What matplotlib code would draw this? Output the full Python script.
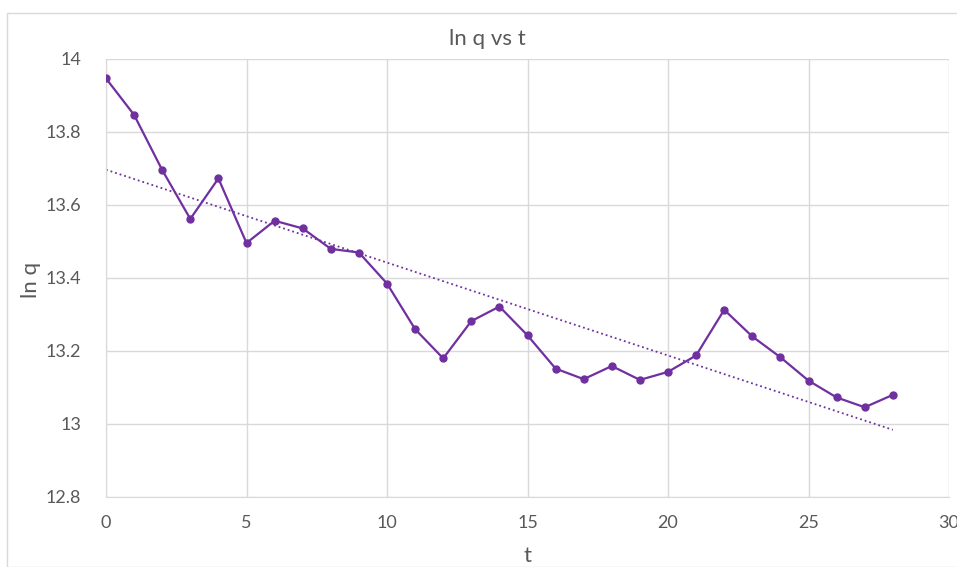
import numpy as np
import matplotlib.pyplot as plt
from matplotlib.patches import Rectangle

plt.rcParams['font.family'] = ['Lato', 'DejaVu Sans']

# Datos
t = np.arange(0, 29)
ln_q = np.array([13.946, 13.846, 13.695, 13.561, 13.672, 13.495, 13.556, 13.535,
                 13.479, 13.469, 13.384, 13.259, 13.179, 13.281, 13.321, 13.242,
                 13.151, 13.122, 13.158, 13.120, 13.142, 13.187, 13.312, 13.239,
                 13.182, 13.118, 13.072, 13.045, 13.079])

# Línea de tendencia lineal
b, a = np.polyfit(t, ln_q, 1)
tendencia = a + b * t

morado = '#7030A0'
gris_txt = '#595959'
gris_rej = '#D9D9D9'

W, H = 957, 567
fig = plt.figure(figsize=(W / 100, H / 100), dpi=100)
fig.patches.append(Rectangle((7 / W, 0), 1, 1 - 13 / H, transform=fig.transFigure,
                             fill=False, edgecolor=gris_rej, lw=1))

ax = fig.add_axes([106 / W, (H - 496.7) / H, (949 - 106) / W, (496.7 - 58.7) / H])
ax.plot(t, ln_q, '-o', color=morado, lw=1.6, markersize=5, zorder=3)
ax.plot(t, tendencia, ':', color=morado, lw=1.3, zorder=2)

ax.set_xlim(0, 30)
ax.set_ylim(12.8, 14)
ax.set_xticks(np.arange(0, 31, 5))
ax.set_yticks(np.arange(12.8, 14.01, 0.2))
ax.set_yticklabels(['12.8', '13', '13.2', '13.4', '13.6', '13.8', '14'])
ax.grid(True, color=gris_rej, lw=1)
ax.set_axisbelow(True)
for s in ax.spines.values():
    s.set_visible(False)
ax.spines['bottom'].set_visible(True)
ax.spines['bottom'].set_color(gris_rej)
ax.spines['left'].set_visible(True)
ax.spines['left'].set_color(gris_rej)
ax.tick_params(length=0, labelsize=13, colors=gris_txt)
ax.tick_params(axis='x', pad=13)
ax.tick_params(axis='y', pad=18)

fig.text(528 / W, 1 - 556 / H, 't', ha='center', va='center',
         fontsize=16, color=gris_txt)
fig.text(31 / W, 1 - 280 / H, 'ln q', ha='center', va='center', rotation=90,
         fontsize=16, color=gris_txt)
fig.text(487 / W, 1 - 39 / H, 'ln q vs t', ha='center', va='center',
         fontsize=16, color=gris_txt)

fig.savefig('out.png', dpi=100)
